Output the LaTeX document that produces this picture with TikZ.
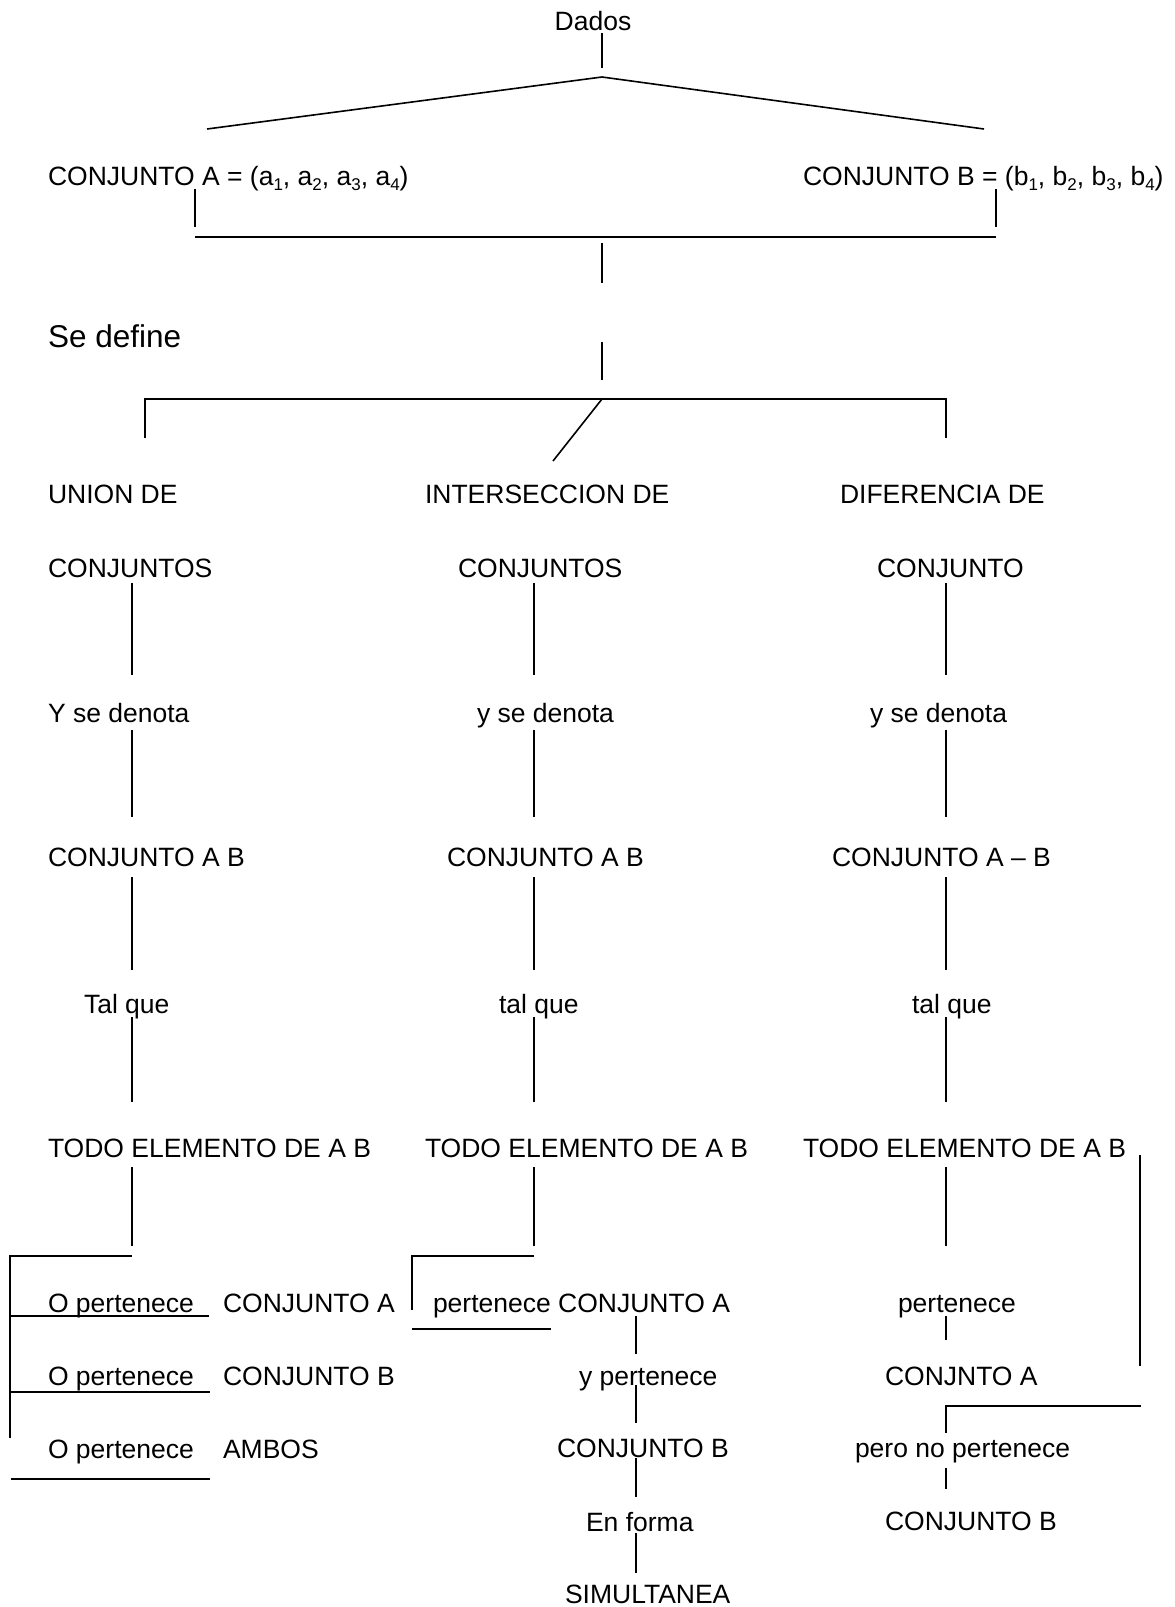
\documentclass[tikz,border=0pt]{standalone}
\usepackage{fontspec}
\setmainfont{Liberation Sans}
% index digits of the set elements
\newcommand{\idx}[1]{\raisebox{-0.22em}{\fontsize{17}{18}\selectfont #1}}
\tikzset{
  lbl/.style={anchor=base west, inner sep=0pt, outer sep=0pt,
              font=\fontsize{26.5}{30}\selectfont},
  biglbl/.style={lbl, font=\fontsize{31.5}{36}\selectfont},
  rule/.style={line width=1.6pt, line cap=butt},
}
\begin{document}
\begin{tikzpicture}[x=1pt,y=-1pt]
\useasboundingbox (0,0) rectangle (1175,1607);

% ---------- header ----------
\node[lbl, anchor=base] (dados) at (593,30) {Dados};
\node[lbl] (setA) at (48,185) {CONJUNTO A = (a\idx{1}, a\idx{2}, a\idx{3}, a\idx{4})};
\node[lbl] (setB) at (803,185) {CONJUNTO B = (b\idx{1}, b\idx{2}, b\idx{3}, b\idx{4})};
\node[biglbl] (define) at (48,347) {Se define};

\coordinate (dadosTop) at (602,33);
\coordinate (dadosBot) at (602,68);
\coordinate (apex) at (602,77);
\coordinate (armA) at (207,129);
\coordinate (armB) at (984,129);
\coordinate (stemAt) at (195,189);
\coordinate (stemAb) at (195,227);
\coordinate (stemBt) at (996,189);
\coordinate (stemBb) at (996,227);
\coordinate (joinL) at (195,237);
\coordinate (joinR) at (996,237);
\coordinate (midT1) at (602,243);
\coordinate (midB1) at (602,283);
\coordinate (midT2) at (602,342);
\coordinate (midB2) at (602,380);
\coordinate (barL) at (145,399);
\coordinate (barM) at (602,399);
\coordinate (barR) at (946,399);
\coordinate (dropL) at (145,438);
\coordinate (dropR) at (946,438);
\coordinate (slant) at (553,461);

\draw[rule] (dadosTop) -- (dadosBot);
\draw[rule] (armA) -- (apex) -- (armB);
\draw[rule] (stemAt) -- (stemAb);
\draw[rule] (stemBt) -- (stemBb);
\draw[rule] (joinL) -- (joinR);
\draw[rule] (midT1) -- (midB1);
\draw[rule] (midT2) -- (midB2);
\draw[rule] (dropL) -- (barL) -- (barR) -- (dropR);
\draw[rule] (barM) -- (slant);

% ---------- three columns ----------
\node[lbl] (u1) at (48,503) {UNION DE};
\node[lbl] (u2) at (48,577) {CONJUNTOS};
\node[lbl] (u3) at (48,722) {Y se denota};
\node[lbl] (u4) at (48,866) {CONJUNTO A B};
\node[lbl] (u5) at (84,1013) {Tal que};
\node[lbl] (u6) at (48,1157) {TODO ELEMENTO DE A B};

\node[lbl] (i1) at (425,503) {INTERSECCION DE};
\node[lbl] (i2) at (458,577) {CONJUNTOS};
\node[lbl] (i3) at (477,722) {y se denota};
\node[lbl] (i4) at (447,866) {CONJUNTO A B};
\node[lbl] (i5) at (499,1013) {tal que};
\node[lbl] (i6) at (425,1157) {TODO ELEMENTO DE A B};

\node[lbl] (d1) at (840,503) {DIFERENCIA DE};
\node[lbl] (d2) at (877,577) {CONJUNTO};
\node[lbl] (d3) at (870,722) {y se denota};
\node[lbl] (d4) at (832,866) {CONJUNTO A – B};
\node[lbl] (d5) at (912,1013) {tal que};
\node[lbl] (d6) at (803,1157) {TODO ELEMENTO DE A B};

% vertical links between the rows of each column
\foreach \c/\x in {u/132, i/534, d/946}{
  \foreach \k/\ya/\yb in {1/583/675, 2/730/817, 3/877/970, 4/1017/1102, 5/1167/1246}{
    \coordinate (\c-\k-t) at (\x,\ya);
    \coordinate (\c-\k-b) at (\x,\yb);
    \draw[rule] (\c-\k-t) -- (\c-\k-b);
  }
}

% ---------- union branch ----------
\node[lbl] (up1) at (48,1312) {O pertenece};
\node[lbl] (up2) at (48,1385) {O pertenece};
\node[lbl] (up3) at (48,1458) {O pertenece};
\node[lbl] (us1) at (223,1312) {CONJUNTO A};
\node[lbl] (us2) at (223,1385) {CONJUNTO B};
\node[lbl] (us3) at (223,1458) {AMBOS};

\coordinate (uBrTop) at (132,1256);
\coordinate (uBrCorner) at (10,1256);
\coordinate (uBrFoot) at (10,1438);
\coordinate (uLn1a) at (10,1316);
\coordinate (uLn1b) at (209,1316);
\coordinate (uLn2a) at (11,1392);
\coordinate (uLn2b) at (210,1392);
\coordinate (uLn3a) at (11,1479);
\coordinate (uLn3b) at (210,1479);
\draw[rule] (uBrTop) -- (uBrCorner) -- (uBrFoot);
\draw[rule] (uLn1a) -- (uLn1b);
\draw[rule] (uLn2a) -- (uLn2b);
\draw[rule] (uLn3a) -- (uLn3b);

% ---------- intersection branch ----------
\node[lbl] (ip1) at (433,1312) {pertenece CONJUNTO A};
\node[lbl] (ip2) at (579,1385) {y pertenece};
\node[lbl] (ip3) at (557,1457) {CONJUNTO B};
\node[lbl] (ip4) at (586,1531) {En forma};
\node[lbl] (ip5) at (565,1603) {SIMULTANEA};

\coordinate (iBrTop) at (534,1256);
\coordinate (iBrCorner) at (412,1256);
\coordinate (iBrFoot) at (412,1310);
\coordinate (iLnA) at (412,1329);
\coordinate (iLnB) at (551,1329);
\draw[rule] (iBrTop) -- (iBrCorner) -- (iBrFoot);
\draw[rule] (iLnA) -- (iLnB);
\foreach \k/\ya/\yb in {1/1316/1354, 2/1385/1423, 3/1458/1497, 4/1533/1573}{
  \coordinate (i-s\k-t) at (636,\ya);
  \coordinate (i-s\k-b) at (636,\yb);
  \draw[rule] (i-s\k-t) -- (i-s\k-b);
}

% ---------- difference branch ----------
\node[lbl] (dp1) at (898,1312) {pertenece};
\node[lbl] (dp2) at (885,1385) {CONJNTO A};
\node[lbl] (dp3) at (855,1457) {pero no pertenece};
\node[lbl] (dp4) at (885,1530) {CONJUNTO B};

\coordinate (dS1t) at (946,1316);
\coordinate (dS1b) at (946,1340);
\coordinate (dRt) at (1140,1155);
\coordinate (dRb) at (1140,1366);
\coordinate (dHr) at (1141,1406);
\coordinate (dHl) at (946,1406);
\coordinate (dHf) at (946,1433);
\coordinate (dS2t) at (946,1468);
\coordinate (dS2b) at (946,1489);
\draw[rule] (dS1t) -- (dS1b);
\draw[rule] (dRt) -- (dRb);
\draw[rule] (dHr) -- (dHl) -- (dHf);
\draw[rule] (dS2t) -- (dS2b);
\end{tikzpicture}
\end{document}
